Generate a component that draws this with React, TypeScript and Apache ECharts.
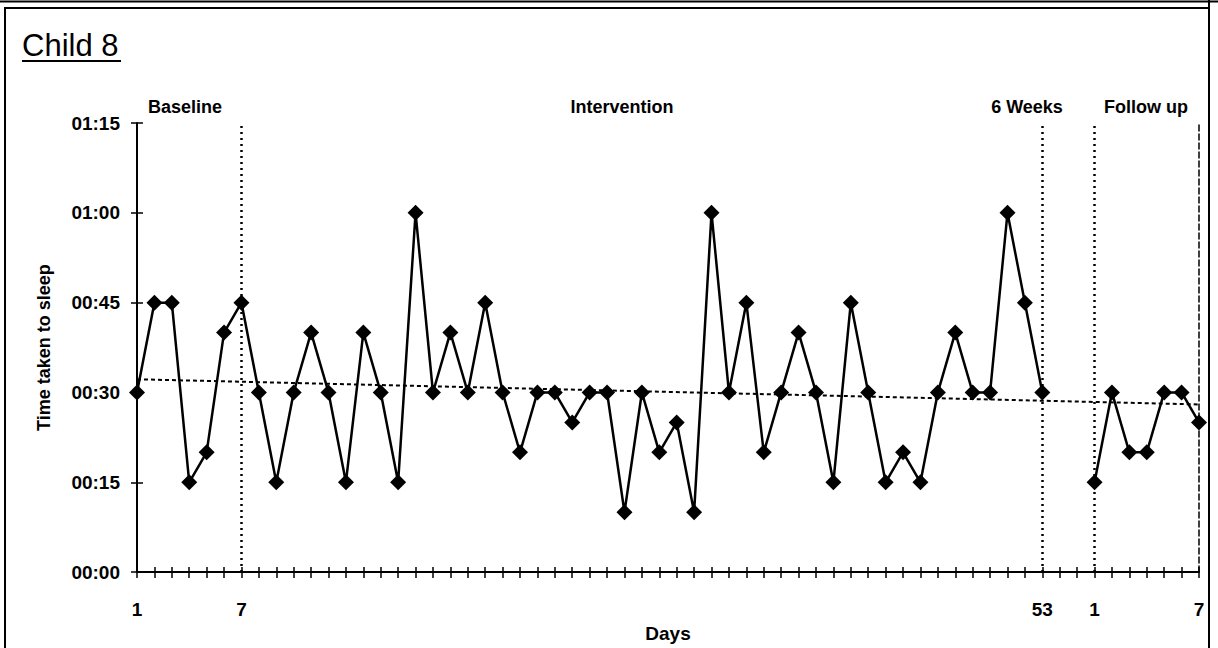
import React, { useEffect, useRef } from 'react';
import * as echarts from 'echarts';

// Category slots: 53 baseline/intervention days, 2 empty gap slots, 7 follow-up days
const categories = [
  'D1', 'D2', 'D3', 'D4', 'D5', 'D6', 'D7', 'D8', 'D9', 'D10',
  'D11', 'D12', 'D13', 'D14', 'D15', 'D16', 'D17', 'D18', 'D19', 'D20',
  'D21', 'D22', 'D23', 'D24', 'D25', 'D26', 'D27', 'D28', 'D29', 'D30',
  'D31', 'D32', 'D33', 'D34', 'D35', 'D36', 'D37', 'D38', 'D39', 'D40',
  'D41', 'D42', 'D43', 'D44', 'D45', 'D46', 'D47', 'D48', 'D49', 'D50',
  'D51', 'D52', 'D53', 'G1', 'G2',
  'F1', 'F2', 'F3', 'F4', 'F5', 'F6', 'F7',
];

const xTickLabels: Record<string, string> = { D1: '1', D7: '7', D53: '53', F1: '1', F7: '7' };

// minutes taken to sleep
const baselineMinutes = [30, 45, 45, 15, 20, 40, 45];
const interventionMinutes = [
  30, 15, 30, 40, 30, 15, 40, 30, 15, 60,
  30, 40, 30, 45, 30, 20, 30, 30, 25, 30,
  30, 10, 30, 20, 25, 10, 60, 30, 45, 20,
  30, 40, 30, 15, 45, 30, 15, 20, 15, 30,
  40, 30, 30, 60, 45, 30,
];
const followUpMinutes = [15, 30, 20, 20, 30, 30, 25];

// linear trend line end points (minutes)
const trendStart = 32.2;
const trendEnd = 28;

const yTicks = [0, 15, 30, 45, 60, 75];
const phaseMarkers = ['D7', 'D53', 'F1'];

const FONT = '"Liberation Sans", Arial, Helvetica, sans-serif';

function fmt(m: number) {
  const h = Math.floor(m / 60);
  const mm = Math.round(m % 60);
  return String(h).padStart(2, '0') + ':' + String(mm).padStart(2, '0');
}

export default function App() {
  const ref = useRef<HTMLDivElement>(null);

  useEffect(() => {
    if (!ref.current) return;
    const chart = echarts.init(ref.current, undefined, { renderer: 'svg' });

    const n = categories.length;
    const gapCount = n - baselineMinutes.length - interventionMinutes.length - followUpMinutes.length;
    const mainData: (number | null)[] = [...baselineMinutes, ...interventionMinutes];
    while (mainData.length < n) mainData.push(null);
    const fuData: (number | null)[] = [];
    for (let i = 0; i < baselineMinutes.length + interventionMinutes.length + gapCount; i++) fuData.push(null);
    fuData.push(...followUpMinutes);
    const trendData: (number | null)[] = categories.map(() => null);
    trendData[0] = trendStart;
    trendData[n - 1] = trendEnd;

    const labelStyle = { color: '#000', fontWeight: 'bold' as const, fontSize: 19, fontFamily: FONT };
    const dotted = { color: '#000', width: 2.5, type: [2, 4] as number[] };
    const phaseText = { fontSize: 18, fontWeight: 'bold' as const, fontFamily: FONT, fill: '#000', align: 'center' as const, verticalAlign: 'middle' as const };

    chart.setOption({
      animation: false,
      backgroundColor: '#fff',
      grid: { left: 137, right: 19, top: 123, bottom: 75, containLabel: false },
      xAxis: [
        {
          type: 'category',
          data: categories,
          boundaryGap: false,
          position: 'bottom',
          axisLine: { lineStyle: { color: '#000', width: 2 } },
          axisTick: { show: true, interval: 0, length: 6, lineStyle: { color: '#000', width: 1.5 } },
          axisLabel: {
            interval: 0,
            formatter: (v: string) => xTickLabels[v] || '',
            margin: 28,
            ...labelStyle,
          },
          name: 'Days',
          nameLocation: 'middle',
          nameGap: 50,
          nameTextStyle: labelStyle,
          splitLine: { show: false },
        },
        {
          type: 'category',
          data: categories,
          boundaryGap: false,
          position: 'bottom',
          offset: 0,
          axisLine: { show: false },
          axisTick: { show: true, inside: true, interval: 0, length: 5, lineStyle: { color: '#000', width: 1.5 } },
          axisLabel: { show: false },
          splitLine: { show: false },
        },
        {
          type: 'category',
          data: categories,
          boundaryGap: false,
          position: 'top',
          axisLine: { show: true, lineStyle: { color: '#000', width: 1.5, type: [6, 3] } },
          axisTick: { show: false },
          axisLabel: { show: false },
          splitLine: { show: false },
        },
      ],
      yAxis: [
        {
          type: 'value',
          min: yTicks[0],
          max: yTicks[yTicks.length - 1],
          interval: 15,
          position: 'left',
          axisLine: { show: true, lineStyle: { color: '#000', width: 2 } },
          axisTick: { show: true, length: 6, lineStyle: { color: '#000', width: 1.5 } },
          axisLabel: { formatter: (v: number) => fmt(v), margin: 17, ...labelStyle },
          splitLine: { show: false },
          name: 'Time taken to sleep',
          nameLocation: 'middle',
          nameGap: 84,
          nameRotate: 90,
          nameTextStyle: { ...labelStyle, fontSize: 18 },
        },
        {
          type: 'value',
          min: yTicks[0],
          max: yTicks[yTicks.length - 1],
          interval: 15,
          position: 'left',
          offset: 0,
          axisLine: { show: false },
          axisTick: { show: true, inside: true, length: 6, lineStyle: { color: '#000', width: 1.5 } },
          axisLabel: { show: false },
          splitLine: { show: false },
        },
        {
          type: 'value',
          min: yTicks[0],
          max: yTicks[yTicks.length - 1],
          interval: 15,
          position: 'right',
          axisLine: { show: true, lineStyle: { color: '#000', width: 1.5, type: [6, 3] } },
          axisTick: { show: false },
          axisLabel: { show: false },
          splitLine: { show: false },
        },
      ],
      series: [
        {
          name: 'Trend',
          type: 'line',
          data: trendData,
          connectNulls: true,
          showSymbol: false,
          symbol: 'none',
          lineStyle: { color: '#000', width: 2, type: [4, 3] },
          z: 1,
          silent: true,
        },
        {
          name: 'Baseline / Intervention',
          type: 'line',
          data: mainData,
          symbol: 'diamond',
          symbolSize: 16,
          itemStyle: { color: '#000' },
          lineStyle: { color: '#000', width: 2.5 },
          z: 3,
          markLine: {
            silent: true,
            symbol: 'none',
            label: { show: false },
            lineStyle: dotted,
            data: phaseMarkers.map((c) => ({ xAxis: c })),
            z: 2,
          },
        },
        {
          name: 'Follow up',
          type: 'line',
          data: fuData,
          symbol: 'diamond',
          symbolSize: 16,
          itemStyle: { color: '#000' },
          lineStyle: { color: '#000', width: 2.5 },
          z: 3,
        },
      ],
      graphic: [
        { type: 'line', shape: { x1: 0, y1: 1.5, x2: 1218, y2: 1.5 }, style: { stroke: '#000', lineWidth: 2 } },
        { type: 'line', shape: { x1: 4, y1: 8, x2: 1210, y2: 8 }, style: { stroke: '#000', lineWidth: 2 } },
        { type: 'line', shape: { x1: 5, y1: 8, x2: 5, y2: 648 }, style: { stroke: '#000', lineWidth: 2 } },
        { type: 'line', shape: { x1: 1209, y1: 0, x2: 1209, y2: 648 }, style: { stroke: '#000', lineWidth: 2 } },
        {
          type: 'text',
          left: 22,
          top: 30,
          style: { text: 'Child 8', fontSize: 31, fontFamily: FONT, fill: '#000' },
        },
        { type: 'line', shape: { x1: 22, y1: 61, x2: 121, y2: 61 }, style: { stroke: '#000', lineWidth: 2 } },
        { type: 'text', x: 185, y: 107, style: { text: 'Baseline', ...phaseText } },
        { type: 'text', x: 622, y: 107, style: { text: 'Intervention', ...phaseText } },
        { type: 'text', x: 1027, y: 107, style: { text: '6 Weeks', ...phaseText } },
        { type: 'text', x: 1146, y: 107, style: { text: 'Follow up', ...phaseText } },
      ],
    });

    return () => chart.dispose();
  }, []);

  return (
    <div
      ref={ref}
      style={{ position: 'fixed', left: 0, top: 0, width: 1218, height: 648, background: '#fff' }}
    />
  );
}
